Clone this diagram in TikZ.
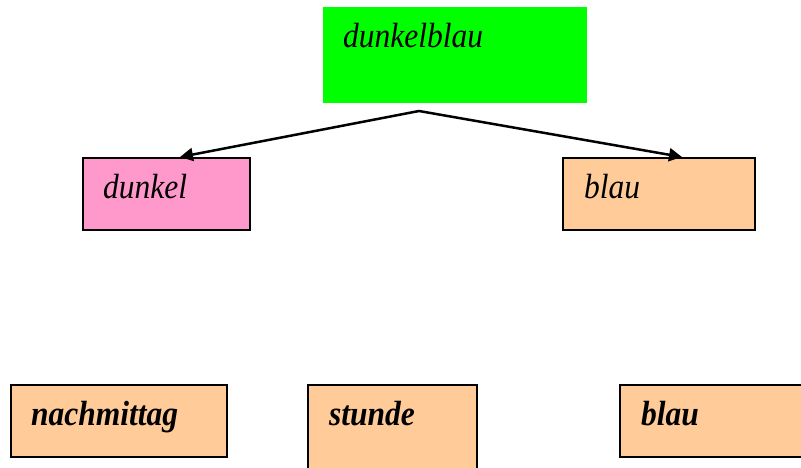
\documentclass[tikz,border=0pt]{standalone}
\usepackage{fontspec}
\setmainfont{Liberation Serif}
\newfontfamily\narrowserif[FakeStretch=0.9]{Liberation Serif}
\usetikzlibrary{arrows.meta}
\definecolor{grn}{HTML}{00FF00}
\definecolor{pink}{HTML}{FF99CC}
\definecolor{tan}{HTML}{FFCC99}
\begin{document}
\begin{tikzpicture}[x=1pt,y=-1pt,
  box/.style={draw=black,line width=1.5pt,rectangle},
  lbl/.style={anchor=base west,inner sep=0pt,font=\narrowserif\fontsize{35}{37}\selectfont\itshape},
  blbl/.style={anchor=base west,inner sep=0pt,font=\narrowserif\fontsize{35}{37}\selectfont\bfseries\itshape},
  arr/.style={line width=2.5pt,-{Triangle[length=13pt,width=13pt]}}]
\useasboundingbox (0,0) rectangle (801,468);
% top
\fill[grn] (323,7) rectangle (587,103);
\node[lbl] (t1) at (343,48) {dunkelblau};
\coordinate (src) at (419,111);
% middle
\draw[box,fill=pink] (83,158) rectangle (250,230);
\node[lbl] (t2) at (103,198) {dunkel};
\coordinate (dk) at (180,157);
\draw[box,fill=tan] (563,158) rectangle (755,230);
\node[lbl] (t3) at (584,198) {blau};
\coordinate (bl) at (682,157);
\draw[arr] (src) -- (dk);
\draw[arr] (src) -- (bl);
% bottom
\draw[box,fill=tan] (11,385) rectangle (227,457);
\node[blbl] (b1) at (31,425) {nachmittag};
\draw[box,fill=tan] (308,385) rectangle (477,475);
\node[blbl] (b2) at (329,425) {stunde};
\draw[box,fill=tan] (620,385) rectangle (810,457);
\node[blbl] (b3) at (641,425) {blau};
\end{tikzpicture}
\end{document}
